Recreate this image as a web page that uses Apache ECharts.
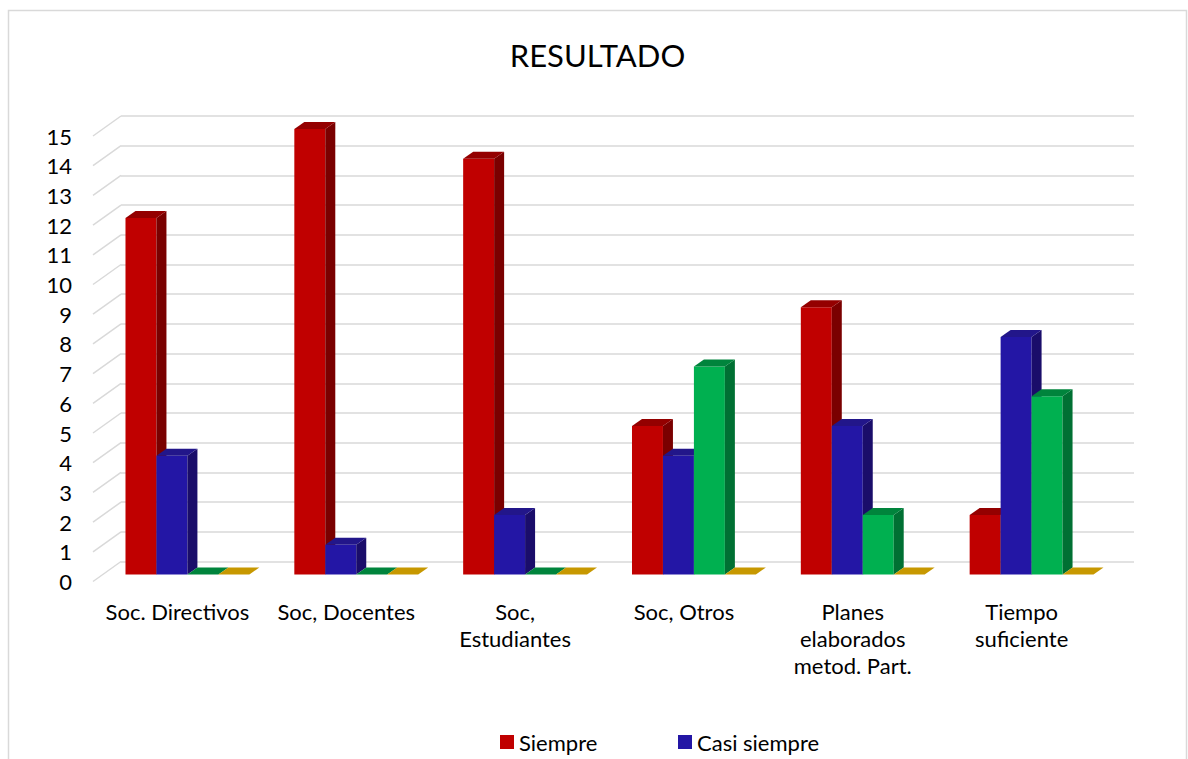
<!DOCTYPE html>
<html>
<head>
<meta charset="utf-8">
<script src="https://cdn.jsdelivr.net/npm/echarts@6/dist/echarts.min.js"></script>
<style>
html,body{margin:0;padding:0;background:#fff;}
#chart{width:1188px;height:759px;}
</style>
</head>
<body>
<div id="chart"></div>
<script>
var titleText = 'RESULTADO';
var categories = ['Soc. Directivos', 'Soc, Docentes', 'Soc,\nEstudiantes', 'Soc, Otros', 'Planes\nelaborados\nmetod. Part.', 'Tiempo\nsuficiente'];
var seriesNames = ['Siempre', 'Casi siempre', 'A veces', 'Nunca'];
var siempre = [12, 15, 14, 5, 9, 2];
var casiSiempre = [4, 1, 2, 4, 5, 8];
var aVeces = [0, 0, 0, 7, 2, 6];
var nunca = [0, 0, 0, 0, 0, 0];
var yTicks = [0, 1, 2, 3, 4, 5, 6, 7, 8, 9, 10, 11, 12, 13, 14, 15];
var legendShown = ['Siempre', 'Casi siempre'];

var FONT = 'Lato';
var faceColors = [
  {front: '#C00000', top: '#940000', side: '#7A0000'},
  {front: '#2316A5', top: '#22168A', side: '#1A0D6A'},
  {front: '#00B050', top: '#00843C', side: '#007033'},
  {front: '#CC9900', top: '#C79800', side: '#8A6A00'}
];
var OFF_X = -18, OFF_Y = 13, DX = 10, DY = -7, WALL_DX = 28, WALL_DY = 20;

function barRender(k) {
  return function (params, api) {
    var cat = api.value(0), val = api.value(1);
    var catW = api.size([1, 0])[0];
    var bw = catW * 0.1834;
    var base = api.coord([cat, 0]);
    var top = api.coord([cat, val]);
    var x0 = base[0] - 2 * bw + k * bw + OFF_X;
    var yB = base[1] + OFF_Y, yT = top[1] + OFF_Y;
    var c = faceColors[k];
    var children = [];
    if (val > 0) {
      children.push({type: 'rect', shape: {x: x0, y: yT, width: bw, height: yB - yT}, style: {fill: c.front}});
      children.push({type: 'polygon', shape: {points: [[x0 + bw, yT], [x0 + bw + DX, yT + DY], [x0 + bw + DX, yB + DY], [x0 + bw, yB]]}, style: {fill: c.side}});
    }
    children.push({type: 'polygon', shape: {points: [[x0, yT], [x0 + bw, yT], [x0 + bw + DX, yT + DY], [x0 + DX, yT + DY]]}, style: {fill: c.top}});
    return {type: 'group', children: children};
  };
}

function wallRender(params, api) {
  var v = api.value(0);
  var p = api.coord([0, v]);
  var x = params.coordSys.x;
  return {type: 'line', shape: {x1: x - WALL_DX, y1: p[1] + WALL_DY, x2: x, y2: p[1]}, style: {stroke: '#D9D9D9', lineWidth: 1.5}};
}

var allData = [siempre, casiSiempre, aVeces, nunca];
var series = [{
  type: 'custom', xAxisIndex: 0, yAxisIndex: 0, z: 1, silent: true,
  renderItem: wallRender,
  data: yTicks.map(function (v) { return [v]; })
}];
allData.forEach(function (arr, k) {
  series.push({
    name: seriesNames[k], type: 'custom', xAxisIndex: 0, yAxisIndex: 0, z: 5,
    itemStyle: {color: faceColors[k].front},
    renderItem: barRender(k),
    data: arr.map(function (v, i) { return [i, v]; })
  });
});

var chart = echarts.init(document.getElementById('chart'), null, {renderer: 'svg'});
chart.setOption({
  animation: false,
  backgroundColor: '#fff',
  graphic: [
    {type: 'rect', shape: {x: 8.5, y: 10.5, width: 1178, height: 800}, style: {fill: 'none', stroke: '#D9D9D9', lineWidth: 1.5}, z: 0},
    {type: 'text', x: 597.5, y: 55, style: {text: titleText, font: '31px ' + FONT, fill: '#000', textAlign: 'center', textVerticalAlign: 'middle'}}
  ],
  legend: [
    {data: [legendShown[0]], left: 495, top: 726, icon: 'rect', itemWidth: 14, itemHeight: 14, textStyle: {fontFamily: FONT, fontSize: 22, color: '#000'}, selectedMode: false},
    {data: [legendShown[1]], left: 673, top: 726, icon: 'rect', itemWidth: 14, itemHeight: 14, textStyle: {fontFamily: FONT, fontSize: 22, color: '#000'}, selectedMode: false}
  ],
  grid: [
    {left: 121, right: 54, top: 116, bottom: 197.5},
    {left: 93, right: 82, top: 136, bottom: 177.5}
  ],
  xAxis: [
    {gridIndex: 0, type: 'category', data: categories, axisLine: {show: false}, axisTick: {show: false}, axisLabel: {show: false}},
    {gridIndex: 1, type: 'category', data: categories, axisLine: {show: false}, axisTick: {show: false},
      axisLabel: {interval: 0, margin: 16, fontFamily: FONT, fontSize: 22, lineHeight: 27, color: '#000'}}
  ],
  yAxis: [
    {gridIndex: 0, type: 'value', min: 0, max: 15, interval: 1, axisLine: {show: false}, axisTick: {show: false}, axisLabel: {show: false},
      splitLine: {show: true, lineStyle: {color: '#D9D9D9', width: 1.5}}},
    {gridIndex: 1, type: 'value', min: 0, max: 15, interval: 1, axisLine: {show: false}, axisTick: {show: false}, splitLine: {show: false},
      axisLabel: {margin: 21, fontFamily: FONT, fontSize: 22, color: '#000'}}
  ],
  series: series
});
</script>
</body>
</html>
